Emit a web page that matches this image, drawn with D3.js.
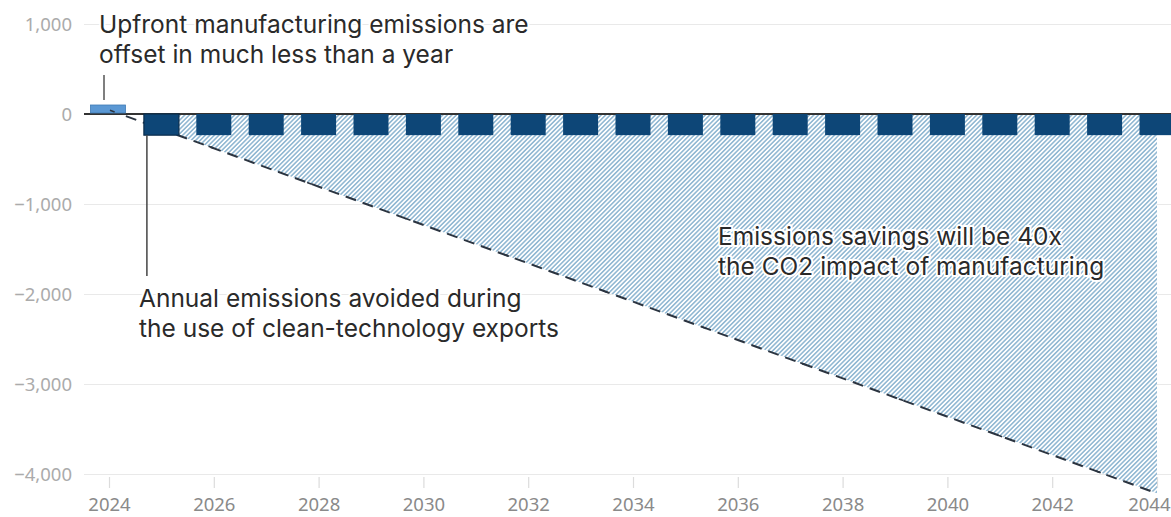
<!DOCTYPE html>
<html>
<head>
<meta charset="utf-8">
<script src="https://cdn.jsdelivr.net/npm/d3@7"></script>
<style>
  html, body { margin: 0; padding: 0; background: #fff; }
  svg { display: block; }
  text { font-family: "Noto Sans", "Open Sans", sans-serif; }
  text.note { font-family: Inter, "Noto Sans", sans-serif; }
</style>
</head>
<body>
<svg id="chart" width="1171" height="517"></svg>
<script>
// Upfront manufacturing emissions (positive) and yearly emissions avoided (negative)
const manufacturingYears = [2024];
const manufacturingValues = [100];

const savingsYears = [2025, 2026, 2027, 2028, 2029, 2030, 2031, 2032, 2033, 2034,
                      2035, 2036, 2037, 2038, 2039, 2040, 2041, 2042, 2043, 2044];
const savingsValues = [-235, -235, -235, -235, -235, -235, -235, -235, -235, -235,
                       -235, -235, -235, -235, -235, -235, -235, -235, -235, -235];

// Running net balance (straight dashed line)
const cumulativeYears = [2024, 2044];
const cumulativeValues = [45, -4215];

// Axis ticks
const yTicks = [1000, 0, -1000, -2000, -3000, -4000];
const xTicks = [2024, 2026, 2028, 2030, 2032, 2034, 2036, 2038, 2040, 2042, 2044];

const svg = d3.select("#chart");
const W = 1171;

const x = d3.scaleLinear().domain([2024, 2044]).range([109, 1157]);
const y = d3.scaleLinear().domain([-4000, 1000]).range([474, 24]);
const barW = 35;

// Hatch pattern for the savings area
const defs = svg.append("defs");
const pat = defs.append("pattern")
  .attr("id", "hatch")
  .attr("patternUnits", "userSpaceOnUse")
  .attr("width", 3.2).attr("height", 3.2)
  .attr("patternTransform", "rotate(45)");
pat.append("rect").attr("width", 3.2).attr("height", 3.2).attr("fill", "#ffffff");
pat.append("line")
  .attr("x1", 0.8).attr("y1", 0).attr("x2", 0.8).attr("y2", 3.2)
  .attr("stroke", "#93b9d3").attr("stroke-width", 1.6);

defs.append("clipPath").attr("id", "areaClip")
  .append("rect")
  .attr("x", x(2025)).attr("y", 0)
  .attr("width", W - x(2025)).attr("height", 517);

// Gridlines + y labels
const yAxis = d3.axisLeft(y).tickValues(yTicks).tickSize(0)
  .tickFormat(d => d3.format(",")(d).replace("-", "\u2212"));
const gy = svg.append("g").attr("transform", "translate(84,0)").call(yAxis);
gy.select(".domain").remove();
gy.selectAll(".tick text")
  .attr("x", -12)
  .attr("dy", "0.34em")
  .attr("fill", "#ababab")
  .style("font-size", "18.5px");
gy.selectAll(".tick").append("line")
  .attr("x1", 0).attr("x2", W - 84)
  .attr("stroke", "#e9e9e9").attr("stroke-width", 1.2);

// X axis ticks and labels below the bottom gridline
const xAxis = d3.axisBottom(x).tickValues(xTicks).tickSize(11).tickPadding(0)
  .tickFormat(d3.format("d"));
const gx = svg.append("g").attr("transform", `translate(0,${y(-4000) + 3})`).call(xAxis);
gx.select(".domain").remove();
gx.selectAll(".tick line").attr("stroke", "#dcdcdc").attr("stroke-width", 1.2);
gx.selectAll(".tick text")
  .attr("y", 34).attr("dy", null)
  .attr("fill", "#8a8a8a")
  .style("font-size", "18.5px");
// keep the last year label inside the right edge
gx.selectAll(".tick text").filter(d => d === 2044)
  .attr("text-anchor", "end")
  .attr("x", W - 1 - x(2044));

// Cumulative area (hatched)
const cumPts = cumulativeYears.map((yr, i) => [yr, cumulativeValues[i]]);
const area = d3.area()
  .x(d => x(d[0]))
  .y0(y(0))
  .y1(d => y(d[1]));
svg.append("path")
  .datum(cumPts)
  .attr("d", area)
  .attr("fill", "url(#hatch)")
  .attr("clip-path", "url(#areaClip)");

// Dashed cumulative line
svg.append("path")
  .datum(cumPts)
  .attr("d", d3.line().x(d => x(d[0])).y(d => y(d[1])))
  .attr("fill", "none")
  .attr("stroke", "#2b3440")
  .attr("stroke-width", 2)
  .attr("stroke-dasharray", "11,7");

// Zero baseline
svg.append("line")
  .attr("x1", 84).attr("x2", W)
  .attr("y1", y(0)).attr("y2", y(0))
  .attr("stroke", "#333").attr("stroke-width", 2);

// Manufacturing bar
svg.selectAll("rect.mfg")
  .data(manufacturingYears.map((yr, i) => ({ yr, v: manufacturingValues[i] })))
  .join("rect").attr("class", "mfg")
  .attr("x", d => x(d.yr) - barW / 2 - 1)
  .attr("y", d => y(d.v))
  .attr("width", barW)
  .attr("height", d => y(0) - y(d.v) - 1)
  .attr("fill", "#5b98d4")
  .attr("stroke", "#3f7bb5").attr("stroke-width", 0.8);

// Small dash of the line over the manufacturing bar
svg.append("path")
  .datum(cumPts)
  .attr("d", d3.line().x(d => x(d[0])).y(d => y(d[1])))
  .attr("fill", "none")
  .attr("stroke", "#2b3440")
  .attr("stroke-width", 1.6)
  .attr("stroke-dasharray", "5,100")
  .attr("stroke-dashoffset", -1);

// Annual savings bars
svg.selectAll("rect.sav")
  .data(savingsYears.map((yr, i) => ({ yr, v: savingsValues[i] })))
  .join("rect").attr("class", "sav")
  .attr("x", d => x(d.yr) - barW / 2)
  .attr("y", y(0))
  .attr("width", barW)
  .attr("height", d => y(d.v) - y(0))
  .attr("fill", "#0d4677")
  .attr("stroke", (d, i) => i === 0 ? "#0a2d4c" : "none")
  .attr("stroke-width", 1.2);

// Annotation connectors
svg.append("line")
  .attr("x1", 104).attr("x2", 104).attr("y1", 75).attr("y2", 100)
  .attr("stroke", "#555").attr("stroke-width", 1.5);
svg.append("line")
  .attr("x1", x(2025) - barW / 2 + 3).attr("x2", x(2025) - barW / 2 + 3)
  .attr("y1", y(savingsValues[0])).attr("y2", 276)
  .attr("stroke", "#444").attr("stroke-width", 1.5);

// Annotation text with white halo, one text element per line
function note(lines, x0, y0, dy) {
  lines.forEach((s, i) => {
    svg.append("text")
      .attr("class", "note")
      .attr("x", x0).attr("y", y0 + i * dy)
      .attr("fill", "#2a2a2a")
      .attr("stroke", "#fff").attr("stroke-width", 4)
      .attr("paint-order", "stroke")
      .attr("stroke-linejoin", "round")
      .style("font-size", "24.5px")
      .text(s);
  });
}
note(["Upfront manufacturing emissions are", "offset in much less than a year"], 99, 33, 30);
note(["Annual emissions avoided during", "the use of clean-technology exports"], 139, 307, 30);
note(["Emissions savings will be 40x", "the CO2 impact of manufacturing"], 718, 245, 29.5);
</script>
</body>
</html>
